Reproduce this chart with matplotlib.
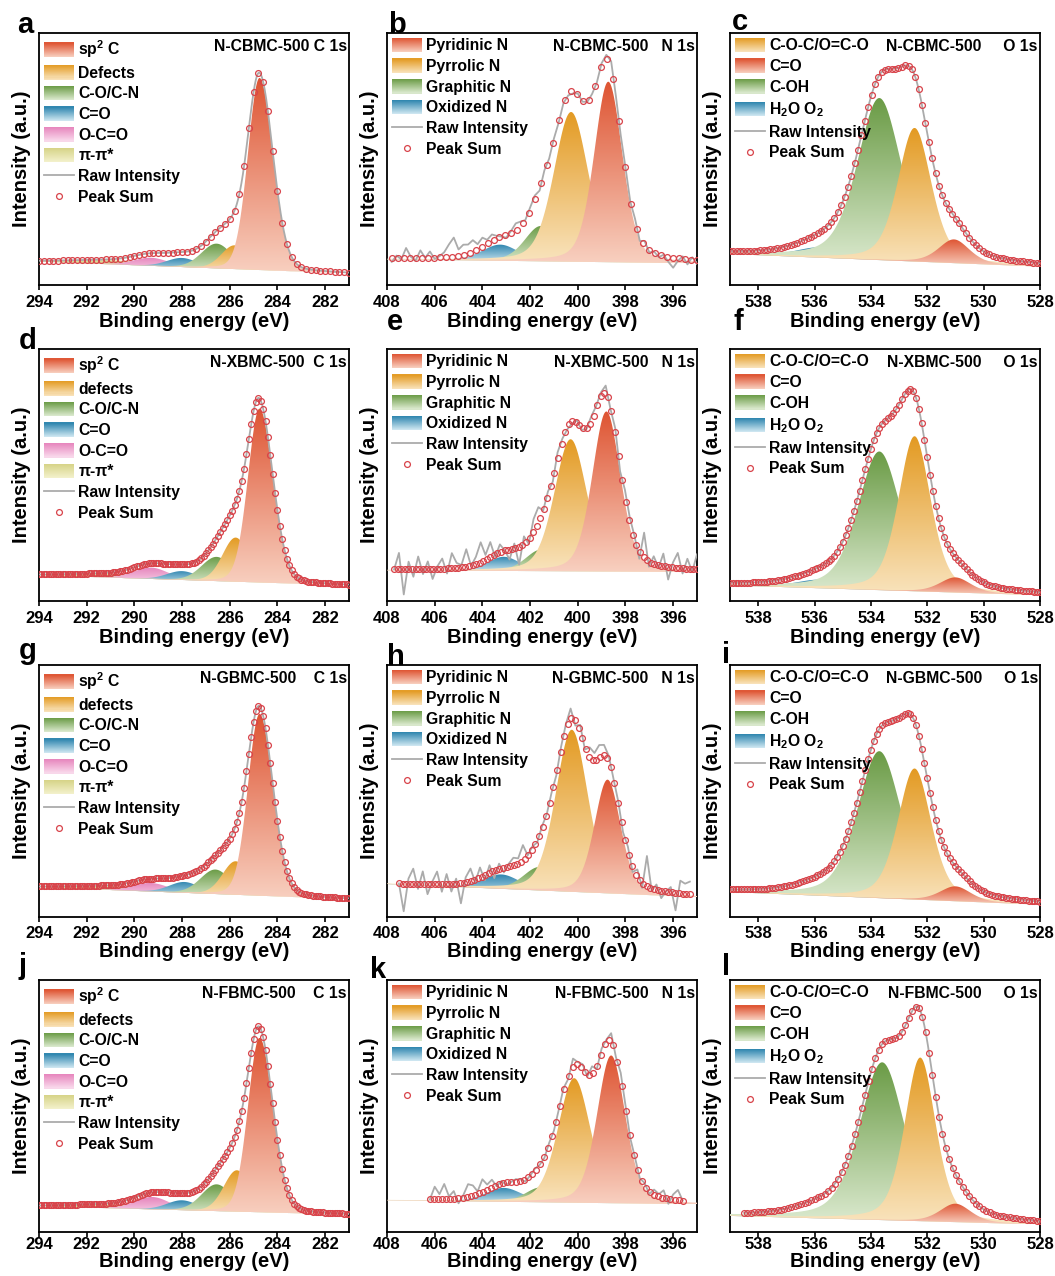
import numpy as np
import matplotlib
matplotlib.use('Agg')
import matplotlib.pyplot as plt
from matplotlib.legend_handler import HandlerBase
from matplotlib.patches import Rectangle
from matplotlib.lines import Line2D
from matplotlib.colors import to_rgb

plt.rcParams['font.family'] = ['Liberation Sans', 'DejaVu Sans']
plt.rcParams['font.weight'] = 'bold'
plt.rcParams['mathtext.fontset'] = 'custom'
plt.rcParams['mathtext.rm'] = 'Liberation Sans:bold'
plt.rcParams['mathtext.it'] = 'Liberation Sans:bold'
plt.rcParams['mathtext.bf'] = 'Liberation Sans:bold'
plt.rcParams['mathtext.default'] = 'rm'

# ------------------------------------------------------------------ data
samples = ['N-CBMC-500', 'N-XBMC-500', 'N-GBMC-500', 'N-FBMC-500']
letters = ['a', 'b', 'c', 'd', 'e', 'f', 'g', 'h', 'i', 'j', 'k', 'l']

c1s_labels_first = ['sp$^2$ C', 'Defects', 'C-O/C-N', 'C=O', 'O-C=O', 'π-π*']
c1s_labels = ['sp$^2$ C', 'defects', 'C-O/C-N', 'C=O', 'O-C=O', 'π-π*']
n1s_labels = ['Pyridinic N', 'Pyrrolic N', 'Graphitic N', 'Oxidized N']
o1s_labels = ['C-O-C/O=C-O', 'C=O', 'C-OH', 'H$_2$O O$_2$']

c1s_ticks = [294, 292, 290, 288, 286, 284, 282]
n1s_ticks = [408, 406, 404, 402, 400, 398, 396]
o1s_ticks = [538, 536, 534, 532, 530, 528]

# ---- C 1s fits (centre eV, height %, FWHM high-BE side, FWHM low-BE side), background ends
a_centers = [284.75, 285.8, 286.55, 288.0, 289.3, 290.8]
a_heights = [76.2, 9.4, 9.8, 3.6, 3.2, 1.6]
a_fw_hi = [1.15, 1.3, 1.5, 1.5, 1.7, 4.0]
a_fw_lo = [1.32, 1.3, 1.5, 1.5, 1.7, 4.0]
a_bg = [9.3, 4.6]

d_centers = [284.75, 285.75, 286.55, 288.0, 289.3, 290.8]
d_heights = [69.0, 17.5, 9.6, 3.5, 4.5, 1.5]
d_fw_hi = [1.15, 1.3, 1.5, 1.5, 1.7, 4.0]
d_fw_lo = [1.32, 1.3, 1.5, 1.5, 1.7, 4.0]
d_bg = [10.2, 6.2]

g_centers = [284.75, 285.75, 286.6, 287.9, 289.3, 290.8]
g_heights = [72.1, 13.3, 9.7, 4.3, 3.4, 1.5]
g_fw_hi = [1.15, 1.3, 1.5, 1.5, 1.7, 4.0]
g_fw_lo = [1.32, 1.3, 1.5, 1.5, 1.7, 4.0]
g_bg = [11.8, 7.1]

j_centers = [284.75, 285.7, 286.55, 288.0, 289.25, 290.8]
j_heights = [69.2, 16.4, 10.6, 3.9, 4.9, 1.5]
j_fw_hi = [1.15, 1.3, 1.5, 1.5, 1.7, 4.0]
j_fw_lo = [1.32, 1.3, 1.5, 1.5, 1.7, 4.0]
j_bg = [10.2, 6.9]

# ---- N 1s fits
b_centers = [398.72, 400.28, 401.55, 403.25]
b_heights = [71.6, 59.4, 14.0, 6.4]
b_fwhm = [1.4, 1.7, 1.6, 1.8]
b_bg = [10.2, 8.6]

e_centers = [398.8, 400.3, 401.55, 403.1]
e_heights = [63.5, 52.4, 8.5, 5.6]
e_fwhm = [1.4, 1.6, 1.5, 1.6]
e_bg = [12.2, 11.5]

h_centers = [398.75, 400.25, 401.6, 403.2]
h_heights = [45.1, 64.3, 9.3, 5.7]
h_fwhm = [1.3, 1.6, 1.6, 1.8]
h_bg = [13.1, 7.9]

k_centers = [398.6, 400.15, 401.55, 403.1]
k_heights = [58.6, 49.4, 5.9, 5.5]
k_fwhm = [1.4, 1.6, 1.5, 1.8]
k_bg = [12.6, 11.0]

# ---- O 1s fits (order: C-O-C/O=C-O, C=O, C-OH, H2O O2)
c_centers = [532.45, 531.05, 533.7, 535.8]
c_heights = [53.0, 9.4, 64.3, 4.1]
c_fwhm = [1.4, 1.3, 1.85, 2.0]
c_bg = [12.3, 7.3]

f_centers = [532.45, 531.0, 533.7, 535.8]
f_heights = [61.5, 6.0, 55.0, 3.4]
f_fwhm = [1.35, 1.3, 1.8, 2.0]
f_bg = [6.2, 2.3]

i_centers = [532.45, 531.0, 533.7, 535.8]
i_heights = [52.0, 5.9, 58.3, 3.0]
i_fwhm = [1.4, 1.3, 1.85, 2.0]
i_bg = [9.9, 4.9]

l_centers = [532.25, 531.0, 533.6, 535.85]
l_heights = [64.9, 7.3, 62.6, 3.0]
l_fwhm = [1.3, 1.3, 1.9, 2.0]
l_bg = [6.4, 3.0]

# ---- measured data ranges (eV)
c1s_range = [294.0, 281.0]
b_range = [407.8, 395.0]
e_range = [407.7, 395.0]
h_range = [407.5, 395.3]
k_range = [406.2, 395.6]
o1s_range = [539.0, 528.0]
l_range = [538.5, 528.0]

# ---- raw-minus-fit residuals (0.2 eV steps)
b_resid = [-1.5, 1.0, -0.5, 4.0, 0.5, -1.0, 3.0, 0.0, 2.5, -0.5, 0.5, 2.0, 5.0, 7.5, 2.5,
           4.0, 3.5, 4.5, 2.0, 3.5, 1.5, 2.5, 1.0, 0.0, -1.0, 1.0, 3.0, 2.0, 0.0, 1.5,
           2.0, -1.0, 1.5, 0.0, 1.0, 0.0, 1.0, -0.5, -1.0, 0.5, -0.5, 0.0, 0.5, -0.5, 1.0,
           1.5, 3.0, 0.0, -1.0, 0.5, -1.0, 1.0, -2.0, 1.5, -1.0, 0.5, -1.0, 0.5, -2.0, -4.0,
           -1.0, 1.0, -2.0, 1.0, -1.5]
e_resid = [0, 6.5, -10, 3, -3, 5, -2, 3, -4, 1, 4, -2, 6, 2, 1, 7, 0, 3, 8, 2, 6, -1, 3, 0,
           -4, 2, -7, 3, -2, 5, 6, 0, 2, -1, 3, 1, -1, -1, 1, -1, -0.5, 2, 1, 1.5, 3, -1, 2,
           -2, 3, 2, 1.5, -3, 10, -2, 3, -1, 5, -5, 2, 6, -2, 4, -1, 6]
h_resid = [0, -11, 2, 6, -2, 5, -4, 1, 5, -3, 4, -3, 2, -8, 2, 5, -1, 4, -2, 3, -3, 2, -2, 1,
           3, 2, 6, 0, 1, -1, 1, 0, 1, -1, 1, 2, 4, -2, 3, -1, 4, 3, 5, 4, 2, 0, 1, -1, 2, -2,
           3, -2, 12, -1, 2, -3, 0, 2, -7, 5, 4, 5]
k_resid = [0, 5, 2, 6, 1, 3, -2, 1, 5, 4, 1, 5, 2, 3, -0.5, 1, -1, 0, 1, 0.5, -1, 0, 1, 0,
           -0.5, 1, 0, 1, 2, -1, 3, 1, 2, -1, 3, -1, 2, 1, 3, -1, 3, 2, 0, 1, -1, 1, -1, 2, 1,
           3, -2, 2, 4, 0]

# ------------------------------------------------------------------ styles
grad_colors = {
    'red': ('#DE5432', '#F8D0C0'),
    'orange': ('#E39A22', '#F9E4BE'),
    'green': ('#6A9B45', '#DCEAD0'),
    'blue': ('#2C84AE', '#D2E9F2'),
    'pink': ('#E684BC', '#F9DAEC'),
    'yellow': ('#D6D386', '#F3F1CD'),
}
c1s_cols = ['red', 'orange', 'green', 'blue', 'pink', 'yellow']
n1s_cols = ['red', 'orange', 'green', 'blue']
o1s_cols = ['orange', 'red', 'green', 'blue']
RAW_COLOR = '#ABABAB'
SUM_COLOR = '#D8434A'

FIG_W, FIG_H = 1055, 1276
col_left = [39, 387, 730]
row_top = [33, 349, 665, 980]
AX_W, AX_H = 310, 252
row_tick_pad = [4.0, 4.0, 3.0, 0.3]
row_label_pad = [1.0, 1.0, 1.0, 0.0]

letter_pos = {'a': (17, 33), 'b': (388, 33), 'c': (732, 30),
              'd': (19, 349), 'e': (387, 330), 'f': (733, 330),
              'g': (19, 659), 'h': (387, 665), 'i': (722, 663),
              'j': (18, 974), 'k': (370, 978), 'l': (722, 975)}


def profile(x, c, h, fw_hi, fw_lo, eta):
    fw = np.where(x >= c, fw_hi, fw_lo)
    r = 2.0 * (x - c) / fw
    gss = np.exp(-np.log(2) * r ** 2)
    lor = 1.0 / (1.0 + r ** 2)
    return h * ((1 - eta) * gss + eta * lor)


class HandlerGradient(HandlerBase):
    def __init__(self, ctop, cbot, n=14):
        super().__init__()
        self.ctop = np.array(to_rgb(ctop))
        self.cbot = np.array(to_rgb(cbot))
        self.n = n

    def create_artists(self, legend, orig_handle, xdescent, ydescent, width,
                       height, fontsize, trans):
        arts = []
        hh = height * 1.25
        y0 = -ydescent - (hh - height) / 2
        for i in range(self.n):
            f = (i + 0.5) / self.n
            col = self.cbot + (self.ctop - self.cbot) * f
            r = Rectangle((-xdescent, y0 + hh * i / self.n), width, hh / self.n * 1.08,
                          facecolor=col, edgecolor='none', transform=trans)
            arts.append(r)
        return arts


def grad_fill(ax, x, base, comp, cname, z):
    ctop, cbot = grad_colors[cname]
    top = base + comp
    poly = ax.fill_between(x, base, top, facecolor='none', edgecolor='none', zorder=z)
    ymin, ymax = base.min(), top.max()
    t = np.linspace(0, 1, 256)[:, None, None]
    a = np.array(to_rgb(cbot))[None, None, :]
    b = np.array(to_rgb(ctop))[None, None, :]
    img = a + (b - a) * t
    im = ax.imshow(img, extent=[x.min(), x.max(), ymin, ymax], origin='lower',
                   aspect='auto', zorder=z, interpolation='bilinear')
    im.set_clip_path(poly.get_paths()[0], transform=ax.transData)


panels = [
    # row 1
    dict(core='C', centers=a_centers, heights=a_heights, fw_hi=a_fw_hi, fw_lo=a_fw_lo,
         bg=a_bg, rng=c1s_range, step=0.2, resid=None, labels=c1s_labels_first,
         title=samples[0] + ' C 1s'),
    dict(core='N', centers=b_centers, heights=b_heights, fw_hi=b_fwhm, fw_lo=b_fwhm,
         bg=b_bg, rng=b_range, step=0.25, resid=b_resid, labels=n1s_labels,
         title=samples[0] + '   N 1s'),
    dict(core='O', centers=c_centers, heights=c_heights, fw_hi=c_fwhm, fw_lo=c_fwhm,
         bg=c_bg, rng=o1s_range, step=0.12, resid=None, labels=o1s_labels,
         title=samples[0] + '     O 1s'),
    # row 2
    dict(core='C', centers=d_centers, heights=d_heights, fw_hi=d_fw_hi, fw_lo=d_fw_lo,
         bg=d_bg, rng=c1s_range, step=0.1, resid=None, labels=c1s_labels,
         title=samples[1] + '  C 1s'),
    dict(core='N', centers=e_centers, heights=e_heights, fw_hi=e_fwhm, fw_lo=e_fwhm,
         bg=e_bg, rng=e_range, step=0.15, resid=e_resid, labels=n1s_labels,
         title=samples[1] + '   N 1s'),
    dict(core='O', centers=f_centers, heights=f_heights, fw_hi=f_fwhm, fw_lo=f_fwhm,
         bg=f_bg, rng=o1s_range, step=0.1, resid=None, labels=o1s_labels,
         title=samples[1] + '     O 1s'),
    # row 3
    dict(core='C', centers=g_centers, heights=g_heights, fw_hi=g_fw_hi, fw_lo=g_fw_lo,
         bg=g_bg, rng=c1s_range, step=0.1, resid=None, labels=c1s_labels,
         title=samples[2] + '    C 1s'),
    dict(core='N', centers=h_centers, heights=h_heights, fw_hi=h_fwhm, fw_lo=h_fwhm,
         bg=h_bg, rng=h_range, step=0.15, resid=h_resid, labels=n1s_labels,
         title=samples[2] + '   N 1s'),
    dict(core='O', centers=i_centers, heights=i_heights, fw_hi=i_fwhm, fw_lo=i_fwhm,
         bg=i_bg, rng=o1s_range, step=0.1, resid=None, labels=o1s_labels,
         title=samples[2] + '     O 1s'),
    # row 4
    dict(core='C', centers=j_centers, heights=j_heights, fw_hi=j_fw_hi, fw_lo=j_fw_lo,
         bg=j_bg, rng=c1s_range, step=0.1, resid=None, labels=c1s_labels,
         title=samples[3] + '    C 1s'),
    dict(core='N', centers=k_centers, heights=k_heights, fw_hi=k_fwhm, fw_lo=k_fwhm,
         bg=k_bg, rng=k_range, step=0.17, resid=k_resid, labels=n1s_labels,
         title=samples[3] + '   N 1s'),
    dict(core='O', centers=l_centers, heights=l_heights, fw_hi=l_fwhm, fw_lo=l_fwhm,
         bg=l_bg, rng=l_range, step=0.12, resid=None, labels=o1s_labels,
         title=samples[3] + '     O 1s'),
]

core_info = {
    'C': dict(xlim=(294, 281), ticks=c1s_ticks, cols=c1s_cols, eta=0.12,
              order=[5, 4, 3, 2, 1, 0]),
    'N': dict(xlim=(408, 395), ticks=n1s_ticks, cols=n1s_cols, eta=0.3,
              order=[3, 2, 1, 0]),
    'O': dict(xlim=(539, 528), ticks=o1s_ticks, cols=o1s_cols, eta=0.4,
              order=[3, 2, 0, 1]),
}

fig = plt.figure(figsize=(FIG_W / 100, FIG_H / 100), dpi=100)

for idx, p in enumerate(panels):
    r, c = divmod(idx, 3)
    info = core_info[p['core']]
    left = col_left[c] / FIG_W
    bottom = 1 - (row_top[r] + AX_H) / FIG_H
    ax = fig.add_axes([left, bottom, AX_W / FIG_W, AX_H / FIG_H])

    xl0, xl1 = info['xlim']

    def bg_at(x, p=p, xl0=xl0, xl1=xl1):
        return p['bg'][0] + (p['bg'][1] - p['bg'][0]) * (xl0 - x) / (xl0 - xl1)

    def fit_sum(x, p=p, info=info):
        s = bg_at(x)
        for cc, hh, fh, fl in zip(p['centers'], p['heights'], p['fw_hi'], p['fw_lo']):
            s = s + profile(x, cc, hh, fh, fl, info['eta'])
        return s

    # component fills
    xf = np.linspace(xl1, xl0, 900)
    base = bg_at(xf)
    for z, k in enumerate(info['order']):
        comp = profile(xf, p['centers'][k], p['heights'][k], p['fw_hi'][k], p['fw_lo'][k],
                       info['eta'])
        grad_fill(ax, xf, base, comp, info['cols'][k], 2 + z)

    # raw intensity
    hi, lo = p['rng']
    if p['resid'] is not None:
        xr = np.linspace(hi, lo, len(p['resid']))
        yr = fit_sum(xr) + np.array(p['resid'])
    else:
        xr = np.linspace(lo, hi, 600)
        yr = fit_sum(xr)
    ax.plot(xr, yr, color=RAW_COLOR, lw=1.3, zorder=10)

    # peak sum
    n_pts = int(round((hi - lo) / p['step'])) + 1
    xs = np.linspace(hi, lo, n_pts)
    ax.plot(xs, fit_sum(xs), ls='none', marker='o', ms=4.2, mfc='none', mec=SUM_COLOR,
            mew=0.9, zorder=11)

    ax.set_xlim(xl0, xl1)
    ax.set_ylim(0, 100)
    ax.set_xticks(info['ticks'])
    ax.set_yticks([])
    ax.tick_params(axis='x', direction='out', length=3.5, width=1.2,
                   pad=row_tick_pad[r], labelsize=12)
    for lab in ax.get_xticklabels():
        lab.set_fontweight('bold')
    for sp in ax.spines.values():
        sp.set_linewidth(1.3)
    ax.set_xlabel('Binding energy (eV)', fontsize=14.5, fontweight='bold',
                  labelpad=row_label_pad[r])
    ax.set_ylabel('Intensity (a.u.)', fontsize=14.5, fontweight='bold', labelpad=6)

    # legend
    handles, labs, hmap = [], [], {}
    for k, lab in enumerate(p['labels']):
        hdl = Rectangle((0, 0), 1, 1)
        ct, cb = grad_colors[info['cols'][k]]
        hmap[hdl] = HandlerGradient(ct, cb)
        handles.append(hdl)
        labs.append(lab)
    handles.append(Line2D([], [], color=RAW_COLOR, lw=1.3))
    labs.append('Raw Intensity')
    handles.append(Line2D([], [], ls='none', marker='o', ms=4.2, mfc='none', mec=SUM_COLOR,
                          mew=0.9))
    labs.append('Peak Sum')
    leg = ax.legend(handles, labs, handler_map=hmap, loc='upper left',
                    bbox_to_anchor=(0.0, 1.0), frameon=False, fontsize=11.3,
                    handlelength=1.85, handleheight=0.75, handletextpad=0.3,
                    labelspacing=0.36, borderaxespad=0.2, borderpad=0.15)
    leg.set_zorder(20)
    for tx in leg.get_texts():
        tx.set_fontweight('bold')

    ax.text(0.993, 0.975, p['title'], transform=ax.transAxes, ha='right', va='top',
            fontsize=11.3, fontweight='bold', zorder=21)

    lx, ly = letter_pos[letters[idx]]
    fig.text(lx / FIG_W, 1 - ly / FIG_H, letters[idx], fontsize=21, fontweight='bold',
             va='baseline', ha='left')

fig.savefig('out.png', dpi=100)
